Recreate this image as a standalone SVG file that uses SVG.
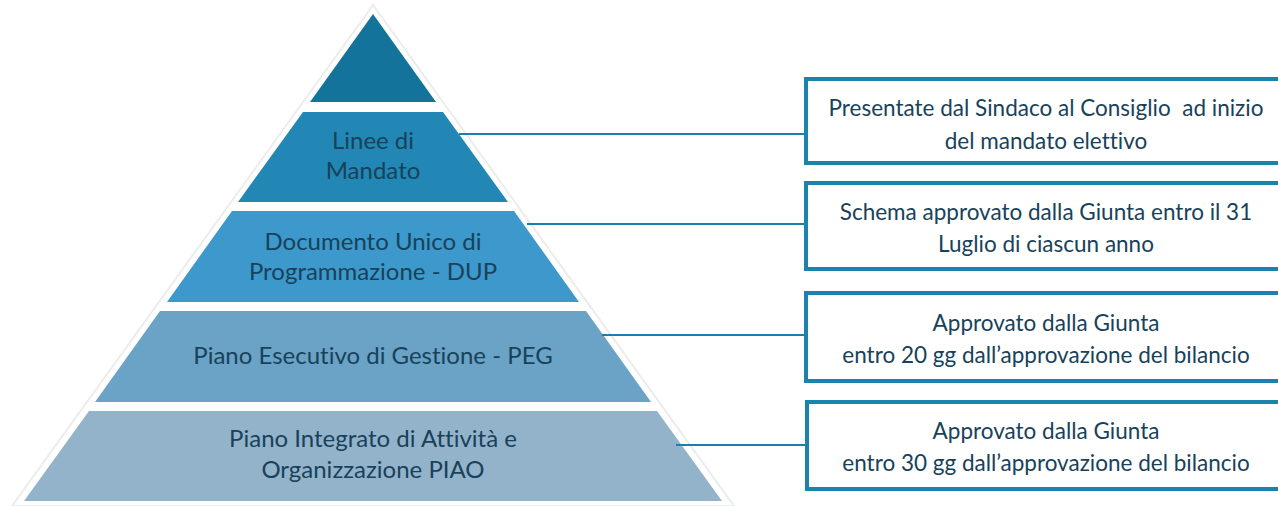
<svg xmlns="http://www.w3.org/2000/svg" width="1278" height="506" viewBox="0 0 1278 506">
<style>
.t{font-family:Lato,"Open Sans","Liberation Sans",sans-serif;font-size:24px;fill:#18425a;text-anchor:middle;font-variant-ligatures:none}
.b{font-family:Lato,"Open Sans","Liberation Sans",sans-serif;font-size:22.5px;fill:#18425a;text-anchor:middle;font-variant-ligatures:none;white-space:pre}
.box{fill:#ffffff;stroke:#1a84ae;stroke-width:4}
.con{stroke:#1a80ab;stroke-width:2;fill:none}
</style>
<rect width="1278" height="506" fill="#ffffff"/>
<polygon points="373,5 12,506 734,506" fill="#ffffff" stroke="#ececec" stroke-width="2"/>
<g id="level1"><polygon points="373,14 310,102 436,102" fill="#13739a"/></g>
<g id="level2"><polygon points="303,112 443,112 508,202 238,202" fill="#2287b4"/>
<text class="t" x="373" y="149">Linee di</text><text class="t" x="373" y="179">Mandato</text></g>
<g id="level3"><polygon points="232,211 514,211 579,302 167,302" fill="#3d98cb"/>
<text class="t" x="373" y="250">Documento Unico di</text><text class="t" x="373" y="280">Programmazione - DUP</text></g>
<g id="level4"><polygon points="160,311 586,311 651,402 95,402" fill="#6aa3c6"/>
<text class="t" x="373" y="364">Piano Esecutivo di Gestione - PEG</text></g>
<g id="level5"><polygon points="89,411 657,411 722,501 24,501" fill="#93b3ca"/>
<text class="t" x="373" y="447">Piano Integrato di Attività e</text><text class="t" x="373" y="478">Organizzazione PIAO</text></g>
<g id="connectors">
<line class="con" x1="459" y1="134" x2="805" y2="134"/>
<line class="con" x1="527" y1="224" x2="805" y2="224"/>
<line class="con" x1="602" y1="335" x2="805" y2="335"/>
<line class="con" x1="676" y1="445" x2="806" y2="445"/>
</g>
<g id="box1"><rect class="box" x="806" y="79" width="480" height="84"/>
<text class="b" x="1046" y="116" xml:space="preserve">Presentate dal Sindaco al Consiglio  ad inizio</text>
<text class="b" x="1046" y="149">del mandato elettivo</text></g>
<g id="box2"><rect class="box" x="806" y="183" width="480" height="86"/>
<text class="b" x="1046" y="220">Schema approvato dalla Giunta entro il 31</text>
<text class="b" x="1046" y="252">Luglio di ciascun anno</text></g>
<g id="box3"><rect class="box" x="806" y="293" width="480" height="88"/>
<text class="b" x="1046" y="331">Approvato dalla Giunta</text>
<text class="b" x="1046" y="363">entro 20 gg dall’approvazione del bilancio</text></g>
<g id="box4"><rect class="box" x="807" y="402" width="480" height="87"/>
<text class="b" x="1046" y="439">Approvato dalla Giunta</text>
<text class="b" x="1046" y="471">entro 30 gg dall’approvazione del bilancio</text></g>
</svg>
